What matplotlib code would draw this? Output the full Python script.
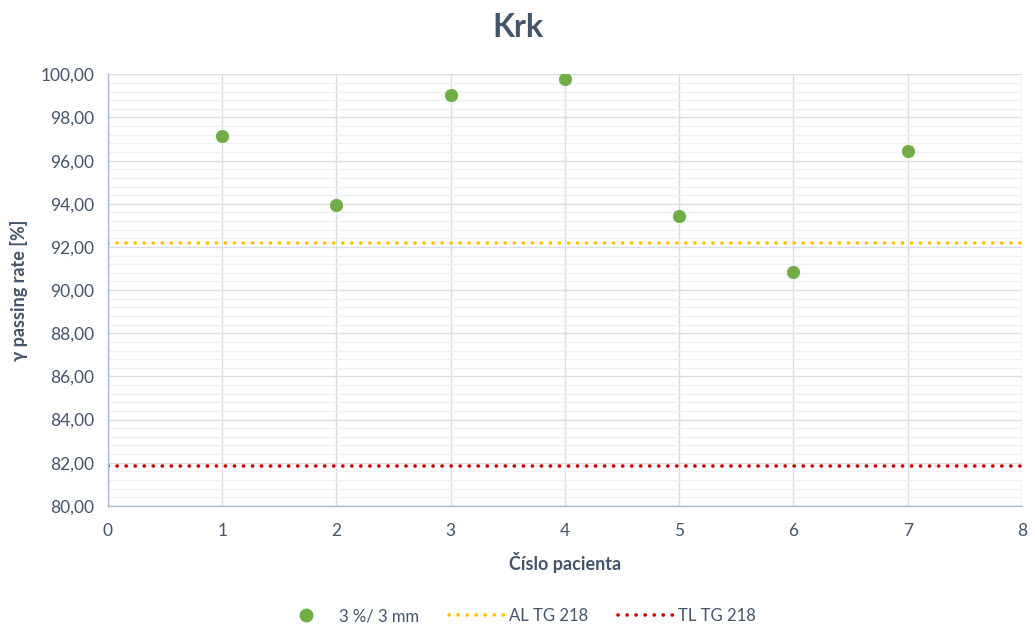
import matplotlib
matplotlib.use("Agg")
import matplotlib.pyplot as plt
from matplotlib.ticker import MultipleLocator, FuncFormatter
from matplotlib.lines import Line2D

plt.rcParams['font.family'] = ['Lato', 'DejaVu Sans']

# Data
patients = [1, 2, 3, 4, 5, 6, 7]
passing_rate = [97.15, 93.94, 99.04, 99.77, 93.43, 90.82, 96.45]
al_tg218 = 92.2
tl_tg218 = 81.85

text_col = '#44546a'
dot_style = (0, (0.05, 2.45))
dot_lw = 2.6

fig = plt.figure(figsize=(10.35, 6.3), dpi=100)
ax = fig.add_axes([0.1043, 0.197, 0.8831, 0.685])

ax.set_xlim(0, 8)
ax.set_ylim(80, 100)

ax.xaxis.set_major_locator(MultipleLocator(1))
ax.yaxis.set_major_locator(MultipleLocator(2))
ax.yaxis.set_minor_locator(MultipleLocator(0.4))
ax.yaxis.set_major_formatter(FuncFormatter(lambda v, p: f"{v:.2f}".replace('.', ',')))

ax.grid(which='major', axis='both', color='#d9dde5', linewidth=1.0, zorder=0)
ax.grid(which='minor', axis='y', color='#eef0f3', linewidth=0.9, zorder=0)
ax.set_axisbelow(True)

for s in ['top', 'right']:
    ax.spines[s].set_visible(False)
for s in ['left', 'bottom']:
    ax.spines[s].set_color('#a9b9d0')
    ax.spines[s].set_linewidth(1.0)

ax.tick_params(which='both', length=0, labelsize=12.5, labelcolor=text_col, pad=10)
ax.tick_params(axis='x', pad=12)

ax.axhline(al_tg218, color='#ffc000', linestyle=dot_style, linewidth=dot_lw,
           dash_capstyle='round', zorder=2)
ax.axhline(tl_tg218, color='#d00000', linestyle=dot_style, linewidth=dot_lw,
           dash_capstyle='round', zorder=2)
ax.scatter(patients, passing_rate, s=80, color='#70ad47', edgecolors='#6aa841',
           linewidths=0.5, zorder=3)

fig.text(0.5, 0.957, 'Krk', ha='center', va='center', fontsize=23,
         fontweight='bold', color=text_col)
ax.set_xlabel('Číslo pacienta', fontsize=13, fontweight='bold', color=text_col, labelpad=10)
ax.set_ylabel('γ passing rate [%]', fontsize=13, fontweight='bold', color=text_col, labelpad=9)

handles = [
    Line2D([], [], linestyle='none', marker='o', markersize=9, color='#70ad47'),
    Line2D([], [], color='#ffc000', linestyle=dot_style, linewidth=dot_lw, dash_capstyle='round'),
    Line2D([], [], color='#d00000', linestyle=dot_style, linewidth=dot_lw, dash_capstyle='round'),
]
labels = ['3 %/ 3 mm', 'AL TG 218', 'TL TG 218']
fig.legend(handles, labels, loc='center', bbox_to_anchor=(0.50, 0.022), ncol=3,
           frameon=False, fontsize=12, labelcolor=text_col, handlelength=3.3,
           columnspacing=1.8, handletextpad=0.3)

fig.savefig('out.png', dpi=100, facecolor='white')
